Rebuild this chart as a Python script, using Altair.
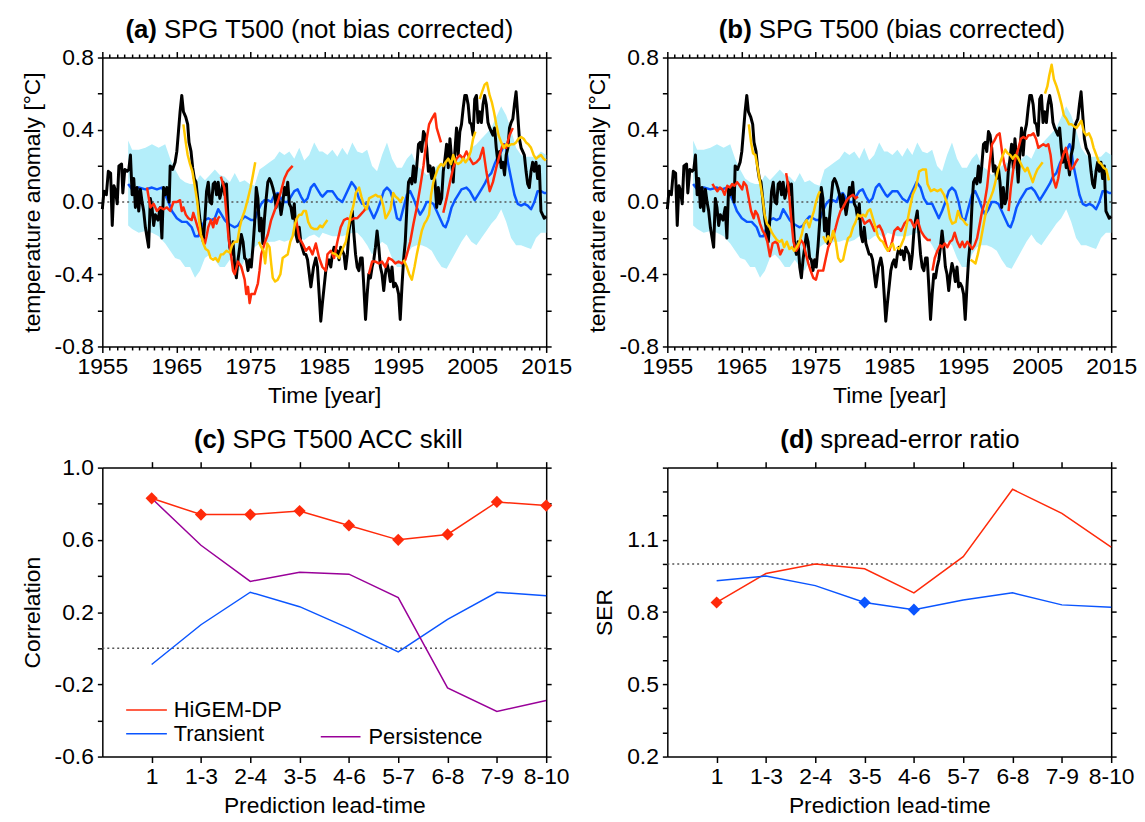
import altair as alt
import pandas as pd

FONT = "Liberation Sans"
RED = "#ff2a0a"
YEL = "#ffc800"
BLUE = "#0a55ff"
CYAN = "#b4eefa"
PURPLE = "#990099"

# ---------------- data: top panels ----------------
OBS = [(1955.00,-0.04),(1955.22,0.06),(1955.54,0.04),(1955.81,0.17),(1956.12,0.16),(1956.34,-0.13),(1956.57,0.09),(1956.79,0.06),(1957.01,-0.01),(1957.24,0.20),(1957.60,0.21),(1957.77,0.05),(1958.04,0.18),(1958.36,0.17),(1958.58,0.18),(1958.80,0.26),(1959.03,0.04),(1959.25,0.13),(1959.47,-0.03),(1959.70,0.08),(1959.92,-0.05),(1960.15,0.07),(1960.37,0.00),(1960.59,-0.05),(1960.82,-0.14),(1961.26,-0.25),(1961.49,0.02),(1961.71,-0.03),(1961.94,-0.13),(1962.16,-0.07),(1962.52,-0.10),(1962.83,-0.03),(1963.05,-0.20),(1963.28,0.08),(1963.50,0.04),(1963.72,0.08),(1964.04,0.00),(1964.17,0.20),(1964.49,0.18),(1964.84,0.22),(1965.07,0.28),(1965.29,0.39),(1965.51,0.50),(1965.74,0.59),(1965.96,0.50),(1966.28,0.47),(1966.54,0.43),(1966.72,0.33),(1966.99,0.28),(1967.21,0.19),(1967.44,0.13),(1967.66,0.11),(1967.89,0.02),(1968.20,-0.10),(1968.42,-0.16),(1968.65,-0.22),(1968.87,-0.09),(1969.09,0.06),(1969.32,0.11),(1969.54,0.00),(1969.77,-0.01),(1969.99,0.10),(1970.21,0.11),(1970.44,0.04),(1970.66,0.11),(1970.88,0.02),(1971.11,0.06),(1971.33,0.11),(1971.55,0.04),(1971.78,0.10),(1972.00,-0.10),(1972.23,-0.25),(1972.45,-0.29),(1972.67,-0.22),(1972.90,-0.36),(1973.12,-0.42),(1973.34,-0.32),(1973.57,-0.25),(1973.79,-0.18),(1974.02,-0.22),(1974.24,-0.31),(1974.46,-0.32),(1974.69,-0.38),(1974.91,-0.32),(1975.13,-0.36),(1975.36,-0.25),(1975.58,-0.12),(1975.81,0.08),(1976.03,0.02),(1976.25,-0.16),(1976.48,-0.09),(1976.70,-0.23),(1976.92,-0.09),(1977.15,0.02),(1977.37,0.11),(1977.60,0.13),(1977.82,0.11),(1978.04,0.08),(1978.27,0.04),(1978.49,-0.03),(1978.71,0.04),(1978.94,0.00),(1979.16,-0.07),(1979.38,-0.01),(1979.61,0.08),(1979.83,0.04),(1980.06,0.11),(1980.28,-0.01),(1980.50,-0.03),(1980.73,-0.09),(1980.95,-0.01),(1981.17,-0.18),(1981.40,-0.22),(1981.62,-0.14),(1981.85,-0.23),(1982.29,-0.29),(1982.52,-0.29),(1982.74,-0.32),(1983.19,-0.47),(1983.55,-0.36),(1983.86,-0.31),(1984.08,-0.36),(1984.31,-0.51),(1984.53,-0.66),(1984.75,-0.56),(1984.98,-0.47),(1985.21,-0.38),(1985.43,-0.34),(1985.65,-0.32),(1985.88,-0.36),(1986.10,-0.29),(1986.33,-0.25),(1986.55,-0.29),(1986.77,-0.27),(1987.00,-0.32),(1987.22,-0.25),(1987.44,-0.27),(1987.67,-0.29),(1987.89,-0.37),(1988.12,-0.29),(1988.34,-0.16),(1988.56,-0.10),(1988.79,-0.05),(1989.01,-0.18),(1989.23,-0.29),(1989.46,-0.36),(1989.68,-0.38),(1989.91,-0.31),(1990.13,-0.31),(1990.35,-0.47),(1990.58,-0.65),(1990.80,-0.51),(1991.02,-0.40),(1991.25,-0.42),(1991.47,-0.36),(1991.70,-0.32),(1991.92,-0.25),(1992.14,-0.16),(1992.37,-0.25),(1992.59,-0.36),(1992.81,-0.40),(1993.04,-0.49),(1993.26,-0.40),(1993.48,-0.34),(1993.71,-0.38),(1993.93,-0.44),(1994.16,-0.36),(1994.38,-0.47),(1994.60,-0.45),(1994.83,-0.47),(1995.05,-0.51),(1995.27,-0.65),(1995.50,-0.47),(1995.72,-0.32),(1995.95,-0.22),(1996.17,-0.03),(1996.39,0.11),(1996.62,0.13),(1996.84,0.10),(1997.06,0.20),(1997.29,0.11),(1997.51,0.20),(1997.74,0.32),(1997.96,0.33),(1998.18,0.28),(1998.41,0.39),(1998.63,0.37),(1998.85,0.30),(1999.08,0.17),(1999.30,0.20),(1999.53,0.13),(1999.75,0.19),(1999.97,0.11),(2000.20,-0.03),(2000.42,0.08),(2000.64,-0.01),(2000.87,0.02),(2001.09,0.17),(2001.32,0.24),(2001.54,0.32),(2001.76,0.19),(2001.99,0.35),(2002.21,0.24),(2002.43,0.11),(2002.66,0.28),(2002.88,0.41),(2003.10,0.26),(2003.33,0.39),(2003.55,0.43),(2003.78,0.52),(2004.00,0.59),(2004.22,0.59),(2004.45,0.54),(2004.67,0.44),(2004.89,0.43),(2005.12,0.37),(2005.34,0.57),(2005.57,0.59),(2005.79,0.44),(2006.01,0.50),(2006.24,0.44),(2006.46,0.54),(2006.68,0.59),(2006.91,0.54),(2007.13,0.44),(2007.36,0.41),(2007.58,0.39),(2007.80,0.37),(2008.03,0.41),(2008.25,0.30),(2008.47,0.22),(2008.70,0.28),(2008.92,0.19),(2009.14,0.22),(2009.37,0.15),(2009.59,0.26),(2009.82,0.30),(2010.04,0.41),(2010.26,0.44),(2010.49,0.46),(2010.71,0.54),(2010.93,0.61),(2011.16,0.48),(2011.38,0.35),(2011.61,0.30),(2011.83,0.28),(2012.05,0.26),(2012.28,0.17),(2012.50,0.10),(2012.72,0.08),(2012.95,0.17),(2013.17,0.22),(2013.40,0.17),(2013.62,0.22),(2013.84,0.13),(2014.07,0.20),(2014.29,-0.05),(2014.51,-0.07),(2014.74,-0.09),(2015.00,-0.08)]

MEAN = [(1958.49,0.10),(1959.03,0.07),(1959.92,0.08),(1960.82,0.07),(1961.71,0.08),(1962.38,0.07),(1963.05,0.08),(1963.50,0.04),(1963.95,0.00),(1964.40,-0.05),(1965.07,-0.09),(1965.74,-0.11),(1966.41,-0.11),(1967.08,-0.14),(1967.53,-0.19),(1967.98,-0.19),(1968.42,-0.14),(1968.87,-0.10),(1969.32,-0.09),(1969.77,-0.10),(1970.21,-0.09),(1970.66,-0.04),(1971.11,-0.07),(1971.55,-0.10),(1972.00,-0.12),(1972.45,-0.13),(1972.90,-0.14),(1973.34,-0.13),(1973.79,-0.10),(1974.24,-0.08),(1974.69,-0.09),(1975.13,-0.10),(1975.58,-0.10),(1976.03,-0.05),(1976.48,-0.01),(1976.92,0.01),(1977.37,0.01),(1977.82,0.00),(1978.27,0.04),(1978.71,0.05),(1979.16,0.02),(1979.61,0.00),(1980.06,0.00),(1980.50,0.03),(1980.95,0.06),(1981.40,0.07),(1981.85,0.03),(1982.29,0.00),(1982.74,0.02),(1983.19,0.08),(1983.64,0.10),(1984.08,0.07),(1984.53,0.04),(1984.76,0.03),(1985.43,0.06),(1986.10,0.06),(1986.77,0.02),(1987.44,0.00),(1988.12,0.06),(1988.70,0.11),(1989.23,0.08),(1989.68,0.02),(1990.13,-0.01),(1990.80,-0.01),(1991.25,-0.05),(1991.70,-0.09),(1992.14,-0.05),(1992.59,0.00),(1993.04,0.06),(1993.48,0.08),(1993.93,0.06),(1994.38,0.00),(1994.83,-0.09),(1995.27,-0.10),(1995.72,-0.03),(1996.17,0.04),(1996.62,0.06),(1997.06,0.02),(1997.51,-0.03),(1997.96,-0.07),(1998.41,-0.04),(1998.85,0.00),(1999.30,0.00),(1999.75,-0.01),(2000.20,-0.05),(2000.64,-0.09),(2001.09,-0.13),(2001.40,-0.14),(2001.76,-0.10),(2002.21,-0.03),(2002.66,0.01),(2003.10,0.04),(2003.55,0.07),(2004.22,0.08),(2004.67,0.06),(2005.34,0.01),(2005.79,0.04),(2006.24,0.07),(2006.68,0.10),(2007.13,0.14),(2007.58,0.16),(2008.03,0.21),(2008.47,0.25),(2008.92,0.28),(2009.37,0.32),(2009.59,0.30),(2009.82,0.22),(2010.26,0.13),(2010.71,0.04),(2011.16,-0.01),(2011.61,-0.02),(2012.05,-0.01),(2012.50,-0.02),(2012.95,-0.04),(2013.40,0.00),(2013.84,0.06),(2014.29,0.06),(2014.74,0.05),(2015.00,0.05)]

BAND_YEAR = [1958.49,1959.03,1959.92,1960.82,1961.71,1962.61,1963.50,1964.17,1964.84,1965.51,1966.19,1966.86,1967.53,1968.20,1968.87,1969.54,1970.21,1970.88,1971.55,1972.23,1972.90,1973.57,1974.24,1974.91,1975.58,1976.25,1976.92,1977.60,1978.27,1978.94,1979.61,1980.28,1980.95,1981.62,1982.29,1982.96,1983.64,1984.31,1984.76,1985.43,1986.10,1986.77,1987.44,1988.12,1988.79,1989.46,1990.13,1990.80,1991.47,1992.14,1992.81,1993.48,1994.16,1994.83,1995.50,1996.17,1996.84,1997.51,1998.18,1998.85,1999.53,2000.20,2000.87,2001.54,2002.21,2002.88,2003.55,2004.22,2004.89,2005.57,2006.24,2006.91,2007.58,2008.25,2008.92,2009.59,2010.26,2010.93,2011.61,2012.28,2012.95,2013.62,2014.29,2015.00]
BAND_HI = [0.34,0.29,0.29,0.30,0.32,0.30,0.32,0.24,0.18,0.13,0.11,0.10,0.10,0.15,0.12,0.15,0.18,0.15,0.14,0.11,0.16,0.11,0.12,0.10,0.09,0.18,0.20,0.22,0.24,0.28,0.26,0.28,0.24,0.30,0.23,0.26,0.33,0.28,0.28,0.26,0.29,0.25,0.30,0.26,0.33,0.28,0.27,0.29,0.20,0.17,0.26,0.33,0.24,0.19,0.19,0.24,0.27,0.20,0.18,0.15,0.17,0.20,0.22,0.19,0.21,0.24,0.26,0.24,0.30,0.32,0.35,0.38,0.41,0.47,0.53,0.48,0.40,0.30,0.26,0.25,0.25,0.25,0.28,0.26]
BAND_LO = [-0.13,-0.15,-0.17,-0.16,-0.17,-0.19,-0.23,-0.27,-0.31,-0.32,-0.36,-0.36,-0.42,-0.38,-0.31,-0.29,-0.32,-0.36,-0.36,-0.32,-0.36,-0.38,-0.32,-0.31,-0.25,-0.23,-0.23,-0.22,-0.22,-0.21,-0.22,-0.21,-0.19,-0.20,-0.21,-0.19,-0.18,-0.20,-0.17,-0.18,-0.19,-0.19,-0.19,-0.18,-0.17,-0.17,-0.20,-0.24,-0.29,-0.25,-0.22,-0.24,-0.31,-0.36,-0.36,-0.29,-0.25,-0.24,-0.24,-0.25,-0.27,-0.32,-0.36,-0.37,-0.32,-0.27,-0.22,-0.18,-0.22,-0.24,-0.20,-0.16,-0.12,-0.09,-0.04,-0.11,-0.20,-0.24,-0.24,-0.25,-0.26,-0.20,-0.17,-0.17]

A_RED = [
    [(1961.04,0.08),(1961.49,-0.03),(1961.94,-0.01),(1962.38,-0.05),(1962.83,-0.03),(1963.28,-0.04),(1963.72,-0.03),(1964.17,-0.05),(1964.62,0.00),(1965.07,0.00),(1965.51,0.01),(1965.74,-0.05),(1965.96,-0.03),(1966.28,-0.07),(1966.63,-0.09),(1967.08,-0.10),(1967.30,-0.06),(1967.53,-0.09),(1967.89,-0.14),(1968.20,-0.18),(1968.65,-0.21),(1968.87,-0.23),(1969.09,-0.19),(1969.32,-0.14),(1969.68,-0.10),(1969.99,-0.14),(1970.21,-0.09),(1970.44,-0.12),(1970.66,-0.09),(1970.88,-0.08)],
    [(1971.02,0.14),(1971.47,0.08),(1971.78,-0.07),(1972.09,-0.21),(1972.45,-0.31),(1972.67,-0.38),(1972.90,-0.40),(1973.34,-0.33),(1973.79,-0.36),(1974.24,-0.43),(1974.46,-0.51),(1974.69,-0.47),(1974.91,-0.56),(1975.13,-0.51),(1975.58,-0.51),(1976.03,-0.45),(1976.25,-0.38),(1976.48,-0.29),(1976.92,-0.23),(1977.37,-0.18),(1977.82,-0.10),(1978.27,-0.05),(1978.71,0.00),(1979.16,0.06),(1979.61,0.13),(1980.06,0.17),(1980.50,0.19),(1980.73,0.20)],
    [(1981.17,-0.09),(1981.62,-0.20),(1982.07,-0.23),(1982.52,-0.27),(1982.96,-0.25),(1983.41,-0.29),(1983.86,-0.23),(1984.31,-0.31),(1984.75,-0.36),(1985.20,-0.38),(1985.43,-0.29),(1985.88,-0.27),(1986.33,-0.31),(1986.77,-0.22),(1987.22,-0.14),(1987.67,-0.10),(1988.12,-0.09),(1988.56,-0.10),(1989.01,-0.09),(1989.46,-0.09),(1989.91,-0.07),(1990.35,-0.05),(1990.70,-0.03)],
    [(1991.02,-0.40),(1991.47,-0.33),(1991.92,-0.33),(1992.37,-0.34),(1992.81,-0.33),(1993.26,-0.36),(1993.71,-0.31),(1994.16,-0.32),(1994.60,-0.34),(1995.05,-0.33),(1995.50,-0.34),(1995.95,-0.32),(1996.17,-0.29),(1996.62,-0.22),(1997.06,-0.12),(1997.51,-0.03),(1997.96,0.08),(1998.41,0.20),(1998.85,0.35),(1999.17,0.43),(1999.53,0.46),(1999.97,0.49),(2000.20,0.41),(2000.64,0.35),(2000.78,0.33)],
    [(2001.09,-0.06),(2001.54,0.02),(2001.99,0.11),(2002.43,0.19),(2002.88,0.24),(2003.33,0.26),(2003.78,0.24),(2004.22,0.28),(2004.67,0.24),(2005.12,0.21),(2005.57,0.22),(2006.01,0.24),(2006.46,0.30),(2006.91,0.17),(2007.36,0.06),(2007.80,0.11),(2008.25,0.19),(2008.70,0.26),(2009.14,0.32),(2009.59,0.30),(2010.04,0.37),(2010.49,0.41)],
]
A_YEL = [
    [(1965.96,0.43),(1966.28,0.33),(1966.54,0.26),(1966.86,0.21),(1967.17,0.17),(1967.53,0.08),(1967.84,0.00),(1968.07,-0.10),(1968.33,-0.18),(1968.65,-0.23),(1968.96,-0.26),(1969.32,-0.27),(1969.63,-0.31),(1969.99,-0.32),(1970.30,-0.31),(1970.66,-0.33),(1971.02,-0.29),(1971.33,-0.29),(1971.78,-0.27),(1972.23,-0.28),(1972.54,-0.24),(1972.90,-0.22),(1973.26,-0.22),(1973.57,-0.14),(1973.88,-0.09),(1974.24,-0.05),(1974.69,0.02),(1975.04,0.08),(1975.36,0.15),(1975.67,0.22)],
    [(1976.16,-0.22),(1976.48,-0.25),(1976.79,-0.27),(1977.01,-0.34),(1977.28,-0.23),(1977.60,-0.25),(1977.82,-0.34),(1978.04,-0.42),(1978.36,-0.44),(1978.71,-0.43),(1979.07,-0.40),(1979.38,-0.31),(1979.70,-0.30),(1980.06,-0.29),(1980.41,-0.22),(1980.73,-0.19),(1981.04,-0.12),(1981.31,-0.09),(1981.62,-0.07),(1981.94,-0.07),(1982.20,-0.05),(1982.52,-0.05),(1982.83,-0.11),(1983.19,-0.14),(1983.64,-0.15),(1984.08,-0.15),(1984.44,-0.13),(1984.75,-0.14),(1985.07,-0.12),(1985.43,-0.10)],
    [(1985.99,-0.28),(1986.57,-0.29),(1987.02,-0.31),(1987.47,-0.26),(1987.92,-0.22),(1988.23,-0.15),(1988.59,-0.07),(1988.94,-0.02),(1989.26,0.05),(1989.71,0.08),(1990.02,0.03),(1990.38,-0.02),(1990.74,-0.04),(1991.05,0.02),(1991.50,0.03),(1991.95,0.04),(1992.26,0.03),(1992.62,0.03),(1992.98,-0.02),(1993.29,-0.09),(1993.60,-0.07),(1993.96,-0.04),(1994.32,0.05),(1994.63,0.03),(1994.95,0.02),(1995.30,0.00),(1995.66,0.03)],
    [(1995.72,-0.32),(1996.17,-0.36),(1996.48,-0.40),(1996.84,-0.43),(1997.20,-0.36),(1997.51,-0.29),(1997.82,-0.23),(1998.18,-0.16),(1998.54,-0.12),(1998.85,-0.10),(1999.17,-0.07),(1999.44,0.04),(1999.75,0.11),(2000.06,0.15),(2000.42,0.19),(2000.78,0.21),(2001.09,0.20),(2001.40,0.22),(2001.76,0.24),(2002.12,0.21),(2002.43,0.26),(2002.75,0.22),(2003.10,0.21),(2003.46,0.22),(2003.78,0.24),(2004.09,0.22),(2004.45,0.24),(2004.80,0.28),(2005.12,0.35),(2005.43,0.39)],
    [(2006.01,0.57),(2006.33,0.61),(2006.68,0.65),(2006.99,0.66),(2007.36,0.59),(2007.67,0.55),(2007.94,0.50),(2008.25,0.43),(2008.56,0.37),(2008.92,0.33),(2009.28,0.30),(2009.59,0.32),(2009.91,0.31),(2010.26,0.32),(2010.62,0.32),(2010.93,0.33),(2011.25,0.35),(2011.61,0.36),(2011.96,0.35),(2012.28,0.33),(2012.59,0.32),(2012.95,0.30),(2013.31,0.26),(2013.62,0.24),(2013.93,0.25),(2014.29,0.26),(2014.65,0.24),(2014.96,0.23)],
]
B_RED = [
    [(1961.09,0.10),(1961.40,0.08),(1961.76,0.06),(1962.11,0.08),(1962.43,0.07),(1962.74,0.04),(1963.10,0.09),(1963.46,0.08),(1963.77,0.10),(1964.08,0.09),(1964.44,0.11),(1964.80,0.09),(1965.11,0.07),(1965.34,0.11),(1965.69,0.09),(1966.01,0.02),(1966.32,-0.05),(1966.68,-0.09),(1966.90,-0.05),(1967.21,-0.07),(1967.53,-0.12),(1967.89,-0.16),(1968.20,-0.18),(1968.52,-0.22),(1968.87,-0.30),(1969.23,-0.23),(1969.59,-0.22),(1969.90,-0.23),(1970.26,-0.29),(1970.62,-0.26)],
    [(1971.06,0.16),(1971.38,0.08),(1971.69,-0.07),(1972.05,-0.22),(1972.40,-0.27),(1972.72,-0.25),(1973.03,-0.21),(1973.39,-0.23),(1973.75,-0.29),(1974.06,-0.34),(1974.37,-0.38),(1974.73,-0.42),(1975.09,-0.43),(1975.40,-0.38),(1975.72,-0.38),(1976.07,-0.38),(1976.43,-0.31),(1976.75,-0.25),(1977.06,-0.22),(1977.42,-0.19),(1977.77,-0.14),(1978.09,-0.09),(1978.40,-0.05),(1978.76,-0.03),(1979.12,0.00),(1979.43,0.02),(1979.74,0.03),(1980.10,0.04),(1980.46,0.02),(1980.77,0.03)],
    [(1980.99,-0.07),(1981.35,-0.09),(1981.67,-0.12),(1981.98,-0.11),(1982.34,-0.10),(1982.70,-0.13),(1983.01,-0.16),(1983.32,-0.14),(1983.68,-0.13),(1984.04,-0.16),(1984.35,-0.20),(1984.66,-0.25),(1985.02,-0.27),(1985.38,-0.22),(1985.69,-0.16),(1986.14,-0.14),(1986.59,-0.16),(1987.04,-0.12),(1987.48,-0.10),(1987.93,-0.10),(1988.38,-0.14),(1988.83,-0.10),(1989.27,-0.16),(1989.72,-0.19),(1990.17,-0.21),(1990.62,-0.21)],
    [(1990.84,-0.38),(1991.15,-0.31),(1991.51,-0.27),(1991.87,-0.24),(1992.18,-0.25),(1992.50,-0.23),(1992.85,-0.25),(1993.21,-0.22),(1993.52,-0.21),(1993.84,-0.17),(1994.20,-0.22),(1994.55,-0.25),(1994.87,-0.22),(1995.18,-0.25),(1995.54,-0.22),(1995.90,-0.24),(1996.21,-0.26),(1996.52,-0.24),(1996.88,-0.20),(1997.24,-0.12),(1997.55,-0.05),(1997.86,-0.01),(1998.22,0.08),(1998.58,0.22),(1998.89,0.32),(1999.21,0.34),(1999.56,0.37),(1999.92,0.38),(2000.24,0.28),(2000.55,0.21),(2000.82,0.17)],
    [(2001.13,-0.05),(2001.44,0.08),(2001.80,0.19),(2002.16,0.26),(2002.47,0.30),(2002.79,0.35),(2003.14,0.36),(2003.50,0.35),(2003.82,0.37),(2004.13,0.37),(2004.49,0.38),(2004.84,0.35),(2005.16,0.30),(2005.47,0.31),(2005.83,0.32),(2006.19,0.31),(2006.50,0.32),(2006.81,0.26),(2007.17,0.13),(2007.53,0.08),(2007.84,0.13),(2008.16,0.21),(2008.51,0.26),(2008.87,0.30),(2009.18,0.24),(2009.50,0.18),(2009.86,0.19),(2010.21,0.22),(2010.53,0.24)],
]
B_YEL = [
    [(1966.01,0.43),(1966.32,0.33),(1966.59,0.27),(1966.90,0.26),(1967.21,0.19),(1967.57,0.10),(1967.89,0.02),(1968.15,-0.07),(1968.47,-0.12),(1968.83,-0.14),(1969.14,-0.17),(1969.45,-0.19),(1969.81,-0.21),(1970.17,-0.22),(1970.48,-0.21),(1970.79,-0.25),(1971.15,-0.22),(1971.51,-0.26),(1971.82,-0.25),(1972.14,-0.27),(1972.49,-0.25),(1972.85,-0.22),(1973.17,-0.18),(1973.48,-0.12),(1973.84,-0.10),(1974.19,-0.14),(1974.51,-0.09),(1974.82,-0.05),(1975.09,0.00),(1975.40,0.04),(1975.63,0.06)],
    [(1976.07,-0.19),(1976.43,-0.22),(1976.75,-0.19),(1977.06,-0.22),(1977.42,-0.16),(1977.77,-0.22),(1978.09,-0.31),(1978.40,-0.33),(1978.76,-0.32),(1979.12,-0.25),(1979.43,-0.20),(1979.74,-0.19),(1980.10,-0.14),(1980.46,-0.11),(1980.77,-0.07),(1981.09,-0.08),(1981.44,-0.07),(1981.80,-0.08),(1982.11,-0.05),(1982.43,-0.04),(1982.79,-0.09),(1983.14,-0.14),(1983.46,-0.19),(1983.77,-0.21),(1984.13,-0.22),(1984.49,-0.25),(1984.80,-0.27),(1985.11,-0.25),(1985.47,-0.23),(1985.75,-0.27)],
    [(1986.00,-0.25),(1986.30,-0.26),(1986.60,-0.24),(1987.00,-0.20),(1987.30,-0.14),(1987.71,-0.05),(1988.16,0.04),(1988.60,0.08),(1989.05,0.17),(1989.50,0.18),(1989.95,0.18),(1990.17,0.10),(1990.62,0.06),(1991.06,0.07),(1991.51,0.06),(1991.96,0.07),(1992.41,0.04),(1992.85,-0.01),(1993.21,-0.09),(1993.52,-0.12),(1993.97,-0.11),(1994.29,-0.05),(1994.64,-0.09),(1995.00,-0.10),(1995.31,-0.12),(1995.63,-0.13)],
    [(1995.99,-0.32),(1996.34,-0.33),(1996.66,-0.34),(1996.97,-0.29),(1997.33,-0.22),(1997.69,-0.14),(1998.00,-0.07),(1998.31,-0.01),(1998.67,0.02),(1999.03,0.06),(1999.34,0.11),(1999.65,0.17),(2000.01,0.22),(2000.37,0.26),(2000.68,0.29),(2001.00,0.27),(2001.35,0.26),(2001.71,0.24),(2002.03,0.26),(2002.34,0.25),(2002.70,0.22),(2003.06,0.19),(2003.37,0.17),(2003.68,0.19),(2004.04,0.15),(2004.40,0.11),(2004.71,0.15),(2005.02,0.18),(2005.38,0.20),(2005.74,0.22)],
    [(2006.05,0.60),(2006.37,0.64),(2006.63,0.70),(2006.95,0.76),(2007.26,0.68),(2007.62,0.64),(2007.98,0.59),(2008.29,0.54),(2008.60,0.48),(2008.96,0.46),(2009.32,0.43),(2009.63,0.43),(2009.95,0.42),(2010.30,0.41),(2010.66,0.43),(2010.97,0.45),(2011.29,0.39),(2011.65,0.37),(2012.00,0.38),(2012.32,0.35),(2012.63,0.30),(2012.99,0.26),(2013.35,0.22),(2013.66,0.21),(2013.97,0.19),(2014.33,0.18),(2014.69,0.12)],
]

# ---------------- data: bottom panels ----------------
LEADS = ["1", "1-3", "2-4", "3-5", "4-6", "5-7", "6-8", "7-9", "8-10"]
SERIES = ["HiGEM-DP", "Transient", "Persistence"]
ACC_HIGEM = [0.83, 0.74, 0.74, 0.76, 0.68, 0.60, 0.63, 0.81, 0.79]
ACC_TRANS = [-0.09, 0.13, 0.31, 0.23, 0.11, -0.02, 0.16, 0.31, 0.29]
ACC_PERS = [0.83, 0.57, 0.37, 0.42, 0.41, 0.28, -0.22, -0.35, -0.29]
ACC_HIGEM_SIG = [1, 1, 1, 1, 1, 1, 1, 1, 1]
SER_HIGEM = [0.84, 0.96, 1.00, 0.98, 0.88, 1.03, 1.31, 1.21, 1.07]
SER_TRANS = [0.93, 0.95, 0.91, 0.84, 0.81, 0.85, 0.88, 0.83, 0.82]
SER_HIGEM_SIG = [1, 0, 0, 0, 0, 0, 0, 0, 0]
SER_TRANS_SIG = [0, 0, 0, 1, 1, 0, 0, 0, 0]

YEARS = list(range(1955, 2016))
TS_TICKS = [-0.8, -0.6, -0.4, -0.2, 0.0, 0.2, 0.4, 0.6, 0.8]
ACC_TICKS = [-0.6, -0.4, -0.2, 0.0, 0.2, 0.4, 0.6, 0.8, 1.0]
SER_TICKS = [0.2, 0.3, 0.4, 0.5, 0.6, 0.7, 0.8, 0.9, 1.0, 1.1, 1.2, 1.3, 1.4]
LEAD_IDX = list(range(1, len(LEADS) + 1))

W, H = 447, 291
TITLE_SIZE = 26
LABEL_SIZE = 23


def pairs_df(pairs):
    return pd.DataFrame({"year": [p[0] for p in pairs], "val": [p[1] for p in pairs]})


def segs_df(segs):
    rows = []
    for i, seg in enumerate(segs):
        for t, v in seg:
            rows.append({"year": t, "val": v, "seg": i})
    return pd.DataFrame(rows)


def fmt(cond):
    return f"({cond}) ? replace(format(datum.value, '.1f'), '\u2212', '-') : ''"


ONE = pd.DataFrame({"k": [0]})

AX = dict(labelFont=FONT, labelFontSize=LABEL_SIZE, labelColor="black",
          titleFont=FONT, titleFontSize=LABEL_SIZE, titleFontWeight="normal", titleColor="black",
          domainColor="black", tickColor="black", domainWidth=1.5, tickWidth=1.5, grid=False)


def axis(**kw):
    d = dict(AX)
    d.update(kw)
    return alt.Axis(**d)


def title_layers(tag, rest, split):
    t1 = alt.Chart(ONE).mark_text(text=tag, font=FONT, fontSize=TITLE_SIZE, fontWeight="bold",
                                  align="right", baseline="middle", color="black").encode(
        x=alt.value(split), y=alt.value(-28))
    t2 = alt.Chart(ONE).mark_text(text=rest, font=FONT, fontSize=TITLE_SIZE, fontWeight="normal",
                                  align="left", baseline="middle", color="black").encode(
        x=alt.value(split + 7), y=alt.value(-28))
    return [t1, t2]


XS = alt.Scale(domain=[1955, 2015], nice=False, zero=False)
YS = alt.Scale(domain=[-0.8, 0.8], nice=False, zero=False)
YEAR_TICK = {"condition": {"test": "datum.value % 10 === 5", "value": 6}, "value": 3.5}


def ts_panel(red, yel, tag, rest, split):
    band_df = pd.DataFrame({"year": BAND_YEAR, "lo": BAND_LO, "hi": BAND_HI})
    band = alt.Chart(band_df).mark_area(color=CYAN, opacity=1).encode(
        x=alt.X("year:Q", scale=XS, axis=axis(
            orient="bottom", values=YEARS, labelExpr="datum.value % 10 === 5 ? '' + datum.value : ''",
            tickSize=YEAR_TICK, labelOverlap=False, labelFlush=False, title="Time [year]",
            labelPadding=3, titlePadding=6)),
        y=alt.Y("lo:Q", scale=YS, axis=axis(
            orient="left", values=TS_TICKS, labelExpr=fmt("round(datum.value*10) % 4 === 0"),
            labelOverlap=False, tickSize=5, labelPadding=4, titlePadding=10,
            title="temperature anomaly [°C]")),
        y2="hi:Q",
    )
    zero = alt.Chart(pd.DataFrame({"z": [0.0]})).mark_rule(
        color="#555555", strokeDash=[2, 3], strokeWidth=1.5).encode(
        y=alt.Y("z:Q", scale=YS, axis=None))
    mean = alt.Chart(pairs_df(MEAN)).mark_line(color=BLUE, strokeWidth=2.5, strokeJoin="round").encode(
        x=alt.X("year:Q", scale=XS, axis=axis(orient="top", values=YEARS, labels=False,
                                             tickSize=YEAR_TICK, title=None)),
        y=alt.Y("val:Q", scale=YS, axis=axis(orient="right", values=TS_TICKS, labels=False,
                                            tickSize=5, title=None)),
    )
    obs = alt.Chart(pairs_df(OBS)).mark_line(color="black", strokeWidth=3, strokeJoin="round").encode(
        x=alt.X("year:Q", scale=XS, axis=None), y=alt.Y("val:Q", scale=YS, axis=None))
    redl = alt.Chart(segs_df(red)).mark_line(color=RED, strokeWidth=2.5, strokeJoin="round").encode(
        x=alt.X("year:Q", scale=XS, axis=None), y=alt.Y("val:Q", scale=YS, axis=None), detail="seg:N")
    yell = alt.Chart(segs_df(yel)).mark_line(color=YEL, strokeWidth=2.5, strokeJoin="round").encode(
        x=alt.X("year:Q", scale=XS, axis=None), y=alt.Y("val:Q", scale=YS, axis=None), detail="seg:N")
    layers = [band, zero, mean, obs, redl, yell] + title_layers(tag, rest, split)
    return alt.layer(*layers).resolve_axis(x="independent", y="independent").properties(width=W, height=H)


XL = alt.Scale(domain=[0, len(LEADS)], nice=False, zero=False)
LEAD_EXPR = "[" + ",".join("'%s'" % l for l in LEADS) + "][datum.value - 1]"


def lead_axis_bottom():
    return axis(orient="bottom", values=LEAD_IDX, labelExpr=LEAD_EXPR, tickSize=6,
                labelOverlap=False, labelFlush=False, title="Prediction lead-time",
                labelPadding=3, titlePadding=6)


def lead_axis_top():
    return axis(orient="top", values=LEAD_IDX, labels=False, tickSize=6, title=None)


def legend_layers():
    out = []
    entries = [(SERIES[0], RED, 24, 65, 72, 244), (SERIES[1], BLUE, 24, 65, 72, 268),
               (SERIES[2], PURPLE, 220, 260, 268, 271)]
    for name, col, x0, x1, xt, yy in entries:
        out.append(alt.Chart(ONE).mark_rule(color=col, strokeWidth=1.5).encode(
            x=alt.value(x0), x2=alt.value(x1), y=alt.value(yy)))
        out.append(alt.Chart(ONE).mark_text(text=name, font=FONT, fontSize=22, align="left",
                                            baseline="middle", color="black").encode(
            x=alt.value(xt), y=alt.value(yy)))
    return out


def panel_c():
    df = pd.DataFrame({"idx": LEAD_IDX, "higem": ACC_HIGEM, "trans": ACC_TRANS,
                       "pers": ACC_PERS, "sig": ACC_HIGEM_SIG})
    YC = alt.Scale(domain=[-0.6, 1.0], nice=False, zero=False)
    zero = alt.Chart(pd.DataFrame({"z": [0.0]})).mark_rule(
        color="#555555", strokeDash=[2, 3], strokeWidth=1.5).encode(y=alt.Y("z:Q", scale=YC, axis=None))
    red = alt.Chart(df).mark_line(color=RED, strokeWidth=1.5).encode(
        x=alt.X("idx:Q", scale=XL, axis=lead_axis_bottom()),
        y=alt.Y("higem:Q", scale=YC, axis=axis(
            orient="left", values=ACC_TICKS, labelExpr=fmt("abs(round((datum.value-0.2)*10)) % 4 === 0"),
            labelOverlap=False, tickSize=5, labelPadding=4, titlePadding=10, title="Correlation")))
    blue = alt.Chart(df).mark_line(color=BLUE, strokeWidth=1.5).encode(
        x=alt.X("idx:Q", scale=XL, axis=lead_axis_top()),
        y=alt.Y("trans:Q", scale=YC, axis=axis(orient="right", values=ACC_TICKS, labels=False,
                                              tickSize=5, title=None)))
    purp = alt.Chart(df).mark_line(color=PURPLE, strokeWidth=1.5).encode(
        x=alt.X("idx:Q", scale=XL, axis=None), y=alt.Y("pers:Q", scale=YC, axis=None))
    dia = alt.Chart(df).transform_filter("datum.sig == 1").mark_point(
        shape="diamond", filled=True, color=RED, size=150, opacity=1).encode(
        x=alt.X("idx:Q", scale=XL, axis=None), y=alt.Y("higem:Q", scale=YC, axis=None))
    layers = [zero, red, blue, purp, dia] + legend_layers() + title_layers("(c)", "SPG T500 ACC skill", 124)
    return alt.layer(*layers).resolve_axis(x="independent", y="independent").properties(width=W, height=H)


def panel_d():
    df = pd.DataFrame({"idx": LEAD_IDX, "higem": SER_HIGEM, "trans": SER_TRANS,
                       "hs": SER_HIGEM_SIG, "ts": SER_TRANS_SIG})
    YD = alt.Scale(domain=[0.2, 1.4], nice=False, zero=False)
    one = alt.Chart(pd.DataFrame({"z": [1.0]})).mark_rule(
        color="#555555", strokeDash=[2, 3], strokeWidth=1.5).encode(y=alt.Y("z:Q", scale=YD, axis=None))
    red = alt.Chart(df).mark_line(color=RED, strokeWidth=1.5).encode(
        x=alt.X("idx:Q", scale=XL, axis=lead_axis_bottom()),
        y=alt.Y("higem:Q", scale=YD, axis=axis(
            orient="left", values=SER_TICKS,
            labelExpr=fmt("abs(round(datum.value*10) - 2) % 3 === 0 && datum.value < 1.35"),
            labelOverlap=False, tickSize=5, labelPadding=4, titlePadding=10, title="SER")))
    blue = alt.Chart(df).mark_line(color=BLUE, strokeWidth=1.5).encode(
        x=alt.X("idx:Q", scale=XL, axis=lead_axis_top()),
        y=alt.Y("trans:Q", scale=YD, axis=axis(orient="right", values=SER_TICKS, labels=False,
                                              tickSize=5, title=None)))
    rdia = alt.Chart(df).transform_filter("datum.hs == 1").mark_point(
        shape="diamond", filled=True, color=RED, size=150, opacity=1).encode(
        x=alt.X("idx:Q", scale=XL, axis=None), y=alt.Y("higem:Q", scale=YD, axis=None))
    bdia = alt.Chart(df).transform_filter("datum.ts == 1").mark_point(
        shape="diamond", filled=True, color=BLUE, size=150, opacity=1).encode(
        x=alt.X("idx:Q", scale=XL, axis=None), y=alt.Y("trans:Q", scale=YD, axis=None))
    layers = [one, red, blue, rdia, bdia] + title_layers("(d)", "spread-error ratio", 147)
    return alt.layer(*layers).resolve_axis(x="independent", y="independent").properties(width=W, height=H)


pa = ts_panel(A_RED, A_YEL, "(a)", "SPG T500 (not bias corrected)", 55)
pb = ts_panel(B_RED, B_YEL, "(b)", "SPG T500 (bias corrected)", 85)
pc = panel_c()
pdd = panel_d()

chart = alt.concat(pa, pb, pc, pdd, columns=2, spacing=122, bounds="flush").properties(
    padding={"left": 13, "top": 6, "right": 0, "bottom": 0},
    background="white",
).configure_axis(
    labelFont=FONT, labelFontSize=LABEL_SIZE, labelColor="black",
    titleFont=FONT, titleFontSize=LABEL_SIZE, titleFontWeight="normal", titleColor="black",
    domainColor="black", tickColor="black", domainWidth=1.5, tickWidth=1.5, grid=False,
).configure_view(stroke=None)

chart.save("out.html", embed_options={"renderer": "svg", "actions": False})
